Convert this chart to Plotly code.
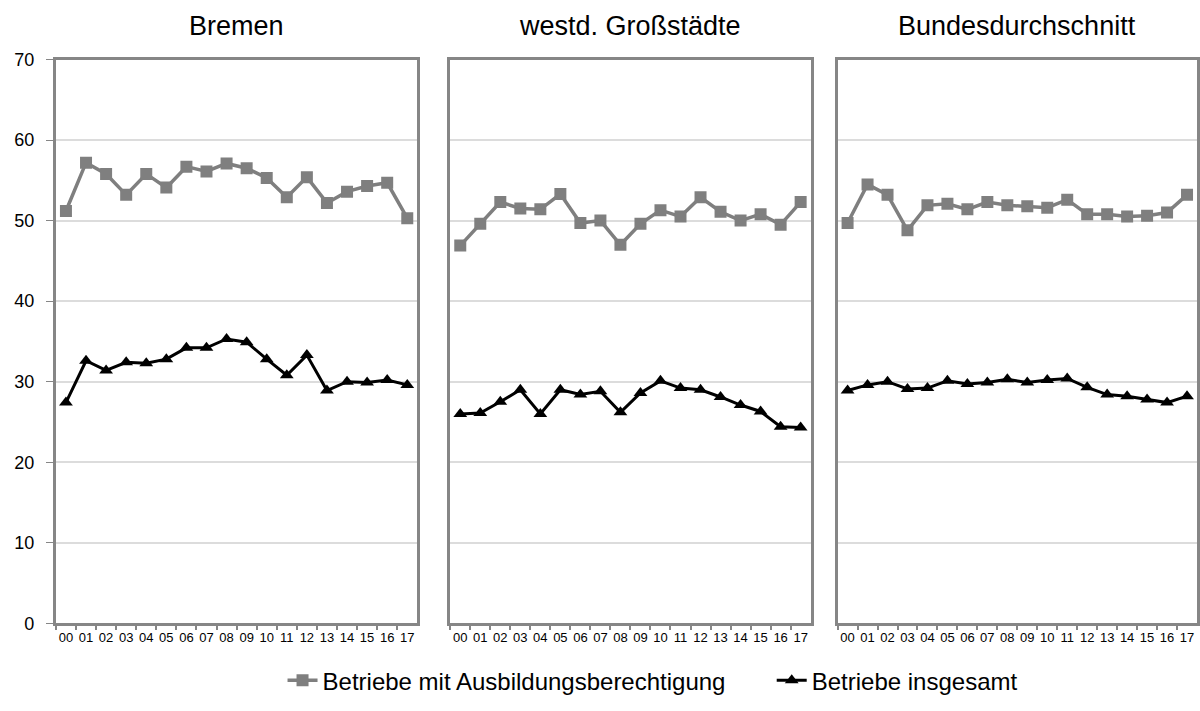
import plotly.graph_objects as go

years = ["00", "01", "02", "03", "04", "05", "06", "07", "08", "09",
         "10", "11", "12", "13", "14", "15", "16", "17"]
panel_titles = ["Bremen", "westd. Großstädte", "Bundesdurchschnitt"]

# Betriebe mit Ausbildungsberechtigung
bremen_berechtigt = [51.2, 57.2, 55.8, 53.2, 55.8, 54.1, 56.7, 56.1, 57.1,
                     56.5, 55.3, 52.9, 55.4, 52.2, 53.6, 54.3, 54.7, 50.3]
gross_berechtigt = [46.9, 49.6, 52.3, 51.5, 51.4, 53.3, 49.7, 50.0, 47.0,
                    49.6, 51.3, 50.5, 52.9, 51.1, 50.0, 50.8, 49.5, 52.3]
bund_berechtigt = [49.7, 54.5, 53.2, 48.8, 51.9, 52.1, 51.4, 52.3, 51.9,
                   51.8, 51.6, 52.6, 50.8, 50.8, 50.5, 50.6, 51.0, 53.2]

# Betriebe insgesamt
bremen_gesamt = [27.4, 32.6, 31.4, 32.4, 32.3, 32.8, 34.2, 34.2, 35.3,
                 34.9, 32.8, 30.8, 33.3, 28.9, 30.0, 29.9, 30.2, 29.6]
gross_gesamt = [26.0, 26.1, 27.5, 29.0, 26.0, 29.0, 28.4, 28.8, 26.2,
                28.6, 30.1, 29.2, 29.0, 28.1, 27.1, 26.3, 24.4, 24.3]
bund_gesamt = [28.9, 29.6, 30.0, 29.1, 29.2, 30.1, 29.7, 29.9, 30.3,
               29.9, 30.2, 30.4, 29.3, 28.4, 28.2, 27.8, 27.4, 28.2]

berechtigt = [bremen_berechtigt, gross_berechtigt, bund_berechtigt]
gesamt = [bremen_gesamt, gross_gesamt, bund_gesamt]

W, H = 1200, 711
FONT = "Liberation Sans, Arial, sans-serif"
GREY = "#7f7f7f"
FRAME = "#868686"

# Panel-Rahmen in Pixeln
panel_px = [(56, 418), (451, 812), (839, 1199)]
y_dom = [(H - 631) / H, (H - 51) / H]

fig = go.Figure()

for i in range(3):
    sfx = "" if i == 0 else str(i + 1)
    fig.add_trace(go.Scatter(
        x=years, y=berechtigt[i], mode="lines+markers",
        name="Betriebe mit Ausbildungsberechtigung",
        line=dict(color=GREY, width=3.5),
        marker=dict(symbol="square", size=12, color=GREY),
        xaxis="x" + sfx, yaxis="y" + sfx,
        legend="legend", showlegend=(i == 0),
    ))
    fig.add_trace(go.Scatter(
        x=years, y=gesamt[i], mode="lines+markers",
        name="Betriebe insgesamt",
        line=dict(color="black", width=3),
        marker=dict(symbol="triangle-up", size=12, color="black"),
        xaxis="x" + sfx, yaxis="y" + sfx,
        legend="legend2", showlegend=(i == 0),
    ))

    x0, x1 = panel_px[i]
    xa = dict(
        domain=[x0 / W, x1 / W], anchor="y" + sfx,
        type="category", range=[-0.5, 17.5], tickangle=0,
        tickson="boundaries", ticks="outside", ticklen=4, tickcolor=FRAME,
        tickwidth=1.5,
        tickfont=dict(size=13, color="black", family=FONT),
        showgrid=False, showline=True, mirror=True,
        linecolor=FRAME, linewidth=3, zeroline=False,
    )
    ya = dict(
        domain=y_dom, anchor="x" + sfx, range=[0, 70], dtick=10,
        showgrid=True, gridcolor="#dcdcdc", gridwidth=1.5,
        showline=True, mirror=True, linecolor=FRAME, linewidth=3,
        zeroline=False,
        ticks="outside" if i == 0 else "", ticklen=7, tickcolor=FRAME,
        ticklabelstandoff=8,
        showticklabels=(i == 0),
        tickfont=dict(size=18, color="black", family=FONT),
    )
    fig.update_layout({"xaxis" + sfx: xa, "yaxis" + sfx: ya})

    fig.add_annotation(
        text=panel_titles[i], xref="paper", yref="paper",
        x=(x0 + x1) / 2 / W, y=(H - 16) / H,
        xanchor="center", yanchor="middle", showarrow=False,
        font=dict(size=27, color="black", family=FONT),
    )

legend_style = dict(
    orientation="h", yref="paper", xanchor="left", yanchor="middle",
    y=(H - 690) / H, font=dict(size=24, color="black", family=FONT),
    bgcolor="rgba(0,0,0,0)", itemwidth=30,
)
fig.update_layout(
    width=W, height=H,
    margin=dict(l=0, r=0, t=0, b=0),
    paper_bgcolor="white", plot_bgcolor="white",
    font=dict(family=FONT, color="black"),
    legend=dict(x=283 / W, **legend_style),
    legend2=dict(x=773 / W, **legend_style),
)

fig.write_html("out.html", config={"displayModeBar": False},
               post_script="document.body.style.margin='0';")
